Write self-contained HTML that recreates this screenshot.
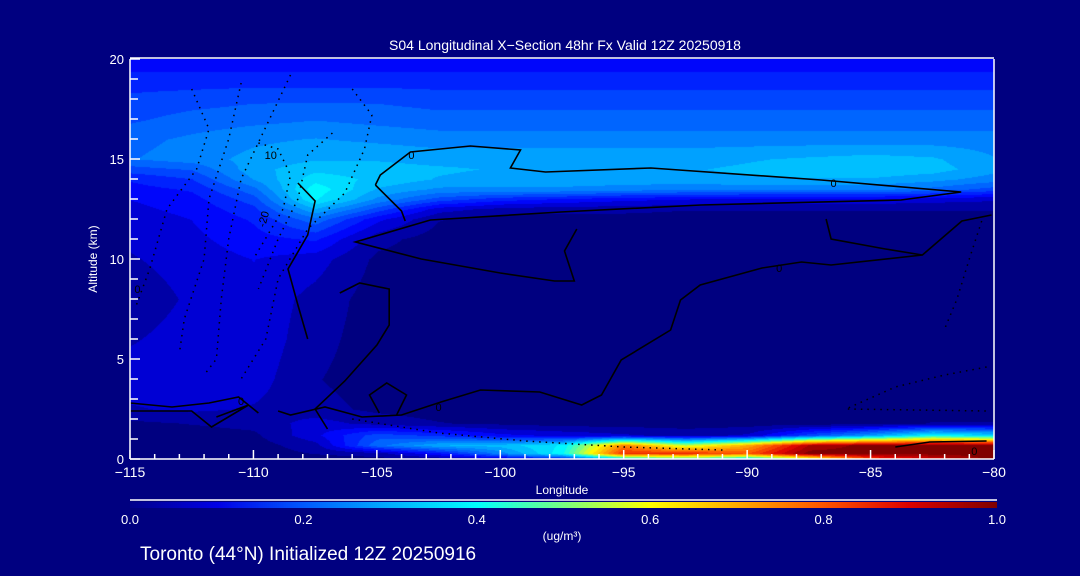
<!DOCTYPE html>
<html><head><meta charset="utf-8"><style>
html,body{margin:0;padding:0;background:#000080;}
#wrap{position:relative;width:1080px;height:576px;overflow:hidden;background:#000080;font-family:"Liberation Sans",sans-serif;color:#fff;}
canvas{position:absolute;}
svg{position:absolute;left:0;top:0;}
</style></head><body>
<div id="wrap">
<canvas id="field" width="864" height="400" style="left:130px;top:59px"></canvas>
<canvas id="cbar" width="867" height="6" style="left:130px;top:502px"></canvas>
<svg id="ov" width="1080" height="576"></svg>
</div>
<script>
// ---- data ----
const lons = [-115,-112.5,-110,-107.5,-105,-102.5,-100,-97.5,-95,-92.5,-90,-87.5,-85,-82.5,-80];
const alts = [0,0.3,0.7,1.2,1.8,2.5,4,6,8,10,11,12,12.5,13,13.5,14,14.5,15,16,17,18,19,20];
const row0   = [0,0,0,0,0,.02,.05,.10,.30,.40,.30,.50,.80,.90,1.0];
const row03  = [0,0,0,.02,.04,.12,.25,.40,.85,.85,.80,1.0,1.0,1.0,1.0];
const row07  = [0,0,0,.04,.22,.30,.32,.38,.75,.55,.70,.95,1.0,1.0,1.0];
const row12  = [0,0,.01,.08,.18,.15,.10,.08,.06,.04,.06,.18,.28,.40,.35];
const row18  = [.01,.02,.03,.07,.04,.02,.01,0,0,0,0,0,0,.02,.02];
const row25  = [.05,.06,.05,.03,.01,0,0,0,0,0,0,0,0,0,0];
const row4   = [.07,.08,.07,.02,0,0,0,0,0,0,0,0,0,0,0];
const row6   = [.05,.07,.08,.03,0,0,0,0,0,0,0,0,0,0,0];
const row8   = [.03,.06,.08,.04,0,0,0,0,0,0,0,0,0,0,0];
const row10  = [.05,.07,.09,.07,.01,0,0,0,0,0,0,0,0,0,0];
const row11  = [.06,.08,.11,.13,.03,0,0,0,0,0,0,0,0,0,0];
const row12k = [.07,.09,.13,.22,.10,.02,0,0,0,0,0,0,0,0,0];
const row125 = [.08,.10,.15,.30,.18,.07,.04,.03,.03,.02,.02,.02,.02,.02,.02];
const row13  = [.09,.11,.18,.38,.26,.18,.14,.12,.10,.09,.08,.08,.08,.07,.06];
const row135 = [.11,.13,.22,.40,.30,.26,.26,.26,.25,.24,.24,.24,.24,.22,.18];
const row14  = [.13,.16,.27,.36,.33,.30,.29,.29,.29,.29,.30,.30,.30,.28,.25];
const row145 = [.18,.20,.29,.33,.32,.31,.30,.30,.30,.30,.31,.32,.33,.32,.28];
const row15  = [.23,.25,.28,.30,.30,.29,.29,.29,.29,.29,.30,.31,.32,.31,.27];
const row16  = [.22,.24,.26,.27,.26,.25,.25,.25,.25,.25,.25,.25,.25,.25,.25];
const row17  = [.19,.21,.22,.23,.22,.21,.21,.21,.21,.21,.21,.21,.21,.21,.21];
const row18k = [.17,.18,.19,.19,.19,.18,.18,.18,.18,.18,.18,.18,.18,.18,.18];
const row19  = [.14,.14,.14,.14,.14,.14,.14,.14,.14,.14,.14,.14,.14,.14,.14];
const row20  = [.10,.10,.10,.10,.10,.10,.10,.10,.10,.10,.10,.10,.10,.10,.10];
const grid = [row0,row03,row07,row12,row18,row25,row4,row6,row8,row10,row11,row12k,row125,row13,row135,row14,row145,row15,row16,row17,row18k,row19,row20];

const xTicks = [-115,-110,-105,-100,-95,-90,-85,-80];
const yTicks = [0,5,10,15,20];
const cbTicks = [0.0,0.2,0.4,0.6,0.8,1.0];

// contours as [lon, alt]
const solidContours = [
 [[-105.06,13.7],[-104.86,14.2],[-103.64,15.35],[-101.21,15.65],[-99.18,15.45],[-99.59,14.55],[-98.17,14.35],[-93.9,14.55],[-87.0,13.95],[-81.33,13.35],[-83.77,12.95],[-91.88,12.7],[-97.56,12.35],[-102.83,11.95],[-105.87,10.85],[-103.2,10.0],[-100.0,9.3],[-97.8,8.9],[-97.0,8.9],[-97.4,10.4],[-96.9,11.5]],
 [[-105.06,13.7],[-104.0,12.4],[-103.85,11.9]],
 [[-80.1,12.2],[-81.3,11.9],[-82.9,10.2],[-86.6,9.7],[-87.8,9.85],[-89.4,9.55],[-91.9,8.7],[-92.7,7.95],[-93.1,6.45],[-95.1,4.95],[-95.9,3.2],[-96.7,2.7],[-98.4,3.35],[-100.8,3.45],[-102.4,2.85],[-104.0,2.2],[-105.6,2.1],[-107.1,2.6],[-108.5,2.2],[-109.0,2.4]],
 [[-86.8,12.0],[-86.6,11.0],[-84.4,10.5],[-82.9,10.2]],
 [[-107.0,1.5],[-107.5,2.5],[-106.3,3.9],[-105.0,5.7],[-104.5,6.7],[-104.5,8.5],[-105.7,8.8],[-106.5,8.3]],
 [[-104.2,2.2],[-103.8,3.2],[-104.6,3.8],[-105.3,3.2],[-104.9,2.3]],
 [[-115,2.8],[-113.3,2.6],[-111.8,2.8],[-110.6,3.1],[-109.8,2.3]],
 [[-115,2.4],[-112.5,2.4],[-111.7,1.6],[-110.2,2.7],[-111.5,2.1]],
 [[-108.2,13.8],[-107.5,12.9],[-107.8,11.2],[-108.6,9.5],[-108.2,7.7],[-107.8,6.0]],
 [[-84.0,0.6],[-82.6,0.85],[-80.3,0.9]]
];
const dottedContours = [
 [[-112.5,18.5],[-111.8,16.5],[-112.3,14.5],[-113.5,12.5],[-114.2,9.5],[-114.8,7.5]],
 [[-110.5,18.8],[-111.0,16.0],[-111.8,13.0],[-112.0,10.0],[-112.8,7.0],[-113.0,5.3]],
 [[-108.5,19.2],[-109.5,16.6],[-110.5,14.0],[-111.0,11.0],[-111.3,8.0],[-111.5,5.0],[-112,4.2]],
 [[-106.0,18.5],[-105.2,17.2],[-105.5,15.5],[-106.3,13.3],[-107.8,11.5],[-109.0,9.0],[-109.5,6.0],[-110.5,4.0]],
 [[-106.8,16.3],[-107.8,15.2],[-108.2,13.0],[-109.0,11.0],[-109.8,8.5]],
 [[-109.8,15.8],[-109.0,15.5],[-108.5,14.2],[-108.8,12.5],[-110.0,10.0]],
 [[-106.0,2.0],[-104.5,1.7],[-102.5,1.3],[-99.0,0.9],[-95.0,0.6],[-91.0,0.45]],
 [[-80.3,4.6],[-82.0,4.2],[-84.0,3.6],[-86.0,2.5],[-80.3,2.4]],
 [[-80.5,11.9],[-81.0,10.0],[-81.5,8.0],[-82.0,6.5]]
];
const contourLabels = [["10",-109.3,15.2,0],["-20",-109.6,12.0,-75],["0",-103.6,15.2,0],["0",-86.5,13.8,0],["0",-88.7,9.55,0],["0",-110.5,2.9,0],["0",-102.5,2.6,0],["0",-114.7,8.5,0],["0",-80.8,0.4,0]];

// ---- scales ----
const X0=130,X1=994,Y0=459,Y1=59;
const sx = v => X0+(v+115)/35*(X1-X0);
const sy = v => Y0-(v)/20*(Y0-Y1);

const stops=[[0,[0,0,128]],[0.04,[0,0,170]],[0.1,[0,0,250]],[0.15,[0,40,255]],[0.2,[0,90,255]],[0.25,[0,130,255]],[0.32,[0,190,255]],[0.4,[0,255,255]],[0.5,[120,255,130]],[0.6,[255,255,0]],[0.7,[255,170,0]],[0.8,[255,85,0]],[0.9,[220,0,0]],[1,[128,0,0]]];
const cstops=[[0,[0,0,140]],[0.1,[0,0,230]],[0.2,[0,90,255]],[0.3,[0,175,255]],[0.4,[0,255,255]],[0.5,[120,255,130]],[0.6,[255,255,0]],[0.7,[255,170,0]],[0.8,[255,85,0]],[0.9,[220,0,0]],[1,[128,0,0]]];
function cmapS(s,v){v=Math.max(0,Math.min(1,v));for(let i=1;i<s.length;i++){if(v<=s[i][0]){const a=s[i-1],b=s[i],t=(v-a[0])/(b[0]-a[0]);return [0,1,2].map(k=>a[1][k]+(b[1][k]-a[1][k])*t);}}return s[s.length-1][1];}
function sample(lon,alt){
 let i=0;while(i<lons.length-2&&lon>lons[i+1])i++;
 let j=0;while(j<alts.length-2&&alt>alts[j+1])j++;
 const tx=Math.max(0,Math.min(1,(lon-lons[i])/(lons[i+1]-lons[i])));
 const ty=Math.max(0,Math.min(1,(alt-alts[j])/(alts[j+1]-alts[j])));
 const a=grid[j][i],b=grid[j][i+1],c=grid[j+1][i],d=grid[j+1][i+1];
 return (a*(1-tx)+b*tx)*(1-ty)+(c*(1-tx)+d*tx)*ty;
}
// field
const fc=document.getElementById('field'),fx=fc.getContext('2d'),W=fc.width,H=fc.height,img=fx.createImageData(W,H);
for(let y=0;y<H;y++){const alt=(H-y)/H*20;for(let x=0;x<W;x++){const lon=-115+x/W*35;let v=sample(lon,alt);v=Math.round(v*28)/28;const c=cmapS(stops,v);const p=(y*W+x)*4;img.data[p]=c[0];img.data[p+1]=c[1];img.data[p+2]=c[2];img.data[p+3]=255;}}
fx.putImageData(img,0,0);
// colorbar
const cc=document.getElementById('cbar'),cx=cc.getContext('2d');
for(let x=0;x<cc.width;x++){const c=cmapS(cstops,x/(cc.width-1));cx.fillStyle=`rgb(${c[0]|0},${c[1]|0},${c[2]|0})`;cx.fillRect(x,0,1,6);}

// overlay
const NS='http://www.w3.org/2000/svg',svg=document.getElementById('ov');
function mk(tag,attrs,parent){const e=document.createElementNS(NS,tag);for(const k in attrs)e.setAttribute(k,attrs[k]);(parent||svg).appendChild(e);return e;}
function txt(s,x,y,size,anchor,name){const t=mk('text',{x:x,y:y,'font-size':size,'text-anchor':anchor||'middle',fill:'#fff','font-family':'Liberation Sans, sans-serif'});t.textContent=s;return t;}
const pts=c=>c.map(p=>sx(p[0]).toFixed(1)+','+sy(p[1]).toFixed(1)).join(' ');
solidContours.forEach(c=>{const e=mk('polyline',{points:pts(c),fill:'none',stroke:'#000','stroke-width':1.6});

});
dottedContours.forEach(c=>{const e=mk('polyline',{points:pts(c),fill:'none',stroke:'#000','stroke-width':1.5,'stroke-dasharray':'1.5 5'});

});
contourLabels.forEach(l=>{const t=mk('text',{x:sx(l[1]),y:sy(l[2])+4,'font-size':11,'text-anchor':'middle',fill:'#000','font-family':'Liberation Sans, sans-serif',transform:`rotate(${l[3]} ${sx(l[1])} ${sy(l[2])})`});t.textContent=l[0];

});
// axes
const ax=mk('g',{stroke:'#fff','stroke-width':1.5});


mk('line',{x1:X0,y1:Y0,x2:X1,y2:Y0},ax);mk('line',{x1:X0,y1:Y0,x2:X0,y2:Y1},ax);mk('line',{x1:X1,y1:Y0,x2:X1,y2:Y1},ax);mk('line',{x1:X0,y1:Y1-1,x2:X1,y2:Y1-1},ax);
for(let v=-115;v<=-80;v++){const major=v%5===0;mk('line',{x1:sx(v),y1:Y0,x2:sx(v),y2:Y0-(major?9:5)},ax);}
for(let v=0;v<=20;v++){const major=v%5===0;mk('line',{x1:X0,y1:sy(v),x2:X0+(major?10:8),y2:sy(v)},ax);}
xTicks.forEach(v=>txt(String(v).replace('-','\u2212'),sx(v),477,14,'middle','x-tick-label'));
yTicks.forEach(v=>txt(String(v),124,sy(v)+5,13,'end','y-tick-label'));
txt('S04 Longitudinal X\u2212Section 48hr  Fx Valid 12Z 20250918',565,50,14,'middle','chart-title');
txt('Longitude',562,494,12,'middle','x-axis-title');
const yt=txt('Altitude (km)',97,259,12,'middle','y-axis-title');yt.setAttribute('transform','rotate(-90 97 259)');
mk('line',{x1:130,y1:500,x2:997,y2:500,stroke:'#fff','stroke-width':1.5});
cbTicks.forEach((v,i)=>txt(v.toFixed(1),130+v*867,524,13,'middle','colorbar-tick-label'));
txt('(ug/m\u00B3)',562,540,12,'middle','colorbar-units');
txt('Toronto (44\u00B0N) Initialized 12Z 20250916',140,560,19,'start','footer-caption');
</script>
</body></html>
